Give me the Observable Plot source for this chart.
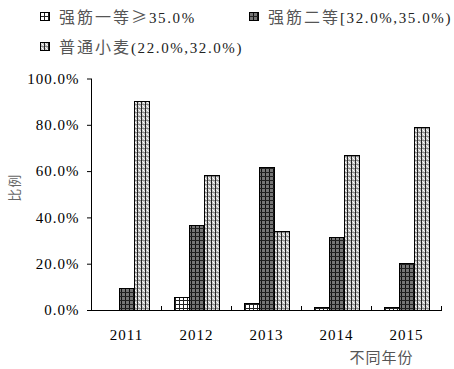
<!DOCTYPE html>
<html>
<head>
<meta charset="utf-8">
<script src="https://cdn.jsdelivr.net/npm/d3@7"></script>
<script src="https://cdn.jsdelivr.net/npm/@observablehq/plot@0.6"></script>
<style>
  body { margin: 0; background: #fff; }
  #wrap { width: 454px; background: #fff; }
  #legend { position: relative; width: 454px; height: 60px; }
  .item { position: absolute; height: 20px; display: flex; align-items: center; white-space: nowrap; }
  .item svg { margin-right: 9px; }
  .cjk { font-family: "Noto Sans CJK SC", sans-serif; font-size: 16px; letter-spacing: 2px; color: #555; }
  .lat { font-family: "Liberation Serif", "DejaVu Serif", serif; font-size: 15px; letter-spacing: 1.6px; color: #222; }
  #chart svg text { letter-spacing: 1px; }
</style>
</head>
<body>
<div id="wrap">
  <div id="legend"></div>
  <div id="chart"></div>
</div>
<script>
// ---- data ----
const years = ["2011", "2012", "2013", "2014", "2015"];
const seriesNames = ["强筋一等≥35.0%", "强筋二等[32.0%,35.0%)", "普通小麦(22.0%,32.0%)"];
const grade1 = [null, 5.2, 2.9, 1.2, 1.2];
const grade2 = [9.4, 36.6, 61.6, 31.4, 19.9];
const common = [90.1, 58.2, 34.0, 66.8, 79.0];
const yTicks = [0, 20, 40, 60, 80, 100];
const xTitle = "不同年份";
const yTitle = "比例";

const seriesValues = [grade1, grade2, common];
const patternIds = ["pat1", "pat2", "pat3"];
const serifFont = "Liberation Serif, DejaVu Serif, serif";

const data = [];
years.forEach((yr, i) => {
  seriesNames.forEach((s, j) => {
    const v = seriesValues[j][i];
    if (v != null) data.push({year: yr, series: s, value: v});
  });
});

const chart = Plot.plot({
  width: 454,
  height: 309,
  marginLeft: 90,
  marginRight: 12,
  marginTop: 18.5,
  marginBottom: 59,
  style: {fontFamily: serifFont, fontSize: "15px", color: "#000", background: "#fff", overflow: "visible"},
  fx: {domain: years, padding: 0, axis: null},
  x: {domain: seriesNames, paddingInner: 0, paddingOuter: 0.74, axis: null},
  y: {domain: [0, 100], axis: null},
  color: {domain: seriesNames, range: patternIds.map(id => `url(#${id})`)},
  marks: [
    Plot.barY(data, {fx: "year", x: "series", y: "value", fill: "series", stroke: "#000", strokeWidth: 1, shapeRendering: "crispEdges"}),
    Plot.ruleY([0], {stroke: "#000", strokeWidth: 1}),
    Plot.frame({anchor: "right", insetTop: 227.5, stroke: "#000"}),
    Plot.frame({anchor: "left", facetAnchor: "left", stroke: "#000"}),
    Plot.axisY({ticks: yTicks, tickSize: 4, tickPadding: 8, tickFormat: d => d.toFixed(1) + "%", fontSize: 15, fontFamily: serifFont, stroke: "#000", fill: "#000", label: null}),
    Plot.axisFx({anchor: "bottom", tickSize: 0, tickPadding: 18.5, fontSize: 15, fontFamily: serifFont, label: null, fill: "#000"}),
    Plot.text([yTitle], {frameAnchor: "left", facetAnchor: "left", dx: -77, dy: 7, rotate: -90, fill: "#666", fontSize: 13, fontFamily: "Noto Sans CJK SC, sans-serif"}),
    Plot.text([xTitle], {frameAnchor: "bottom-right", facetAnchor: "right", dx: -28, dy: 52, textAnchor: "end", fill: "#555", fontSize: 15, fontFamily: "Noto Sans CJK SC, sans-serif"})
  ]
});

function addPatterns(svgSel) {
  const defs = svgSel.insert("defs", ":first-child");
  let p = defs.append("pattern").attr("id", "pat1").attr("patternUnits", "userSpaceOnUse").attr("width", 4).attr("height", 4);
  p.append("rect").attr("width", 4).attr("height", 4).attr("fill", "#fff");
  p.append("rect").attr("x", 0).attr("y", 0).attr("width", 1).attr("height", 4).attr("fill", "#222");
  p.append("rect").attr("x", 0).attr("y", 0).attr("width", 4).attr("height", 1).attr("fill", "#222");
  p = defs.append("pattern").attr("id", "pat2").attr("patternUnits", "userSpaceOnUse").attr("width", 4).attr("height", 4);
  p.append("rect").attr("width", 4).attr("height", 4).attr("fill", "#767676");
  p.append("rect").attr("x", 0).attr("y", 0).attr("width", 1).attr("height", 4).attr("fill", "#111");
  p.append("rect").attr("x", 0).attr("y", 0).attr("width", 4).attr("height", 1).attr("fill", "#222");
  p = defs.append("pattern").attr("id", "pat3").attr("patternUnits", "userSpaceOnUse").attr("width", 4).attr("height", 4);
  p.append("rect").attr("width", 4).attr("height", 4).attr("fill", "#c4c4c4");
  p.append("rect").attr("x", 0).attr("y", 0).attr("width", 1).attr("height", 4).attr("fill", "#222");
  p.append("rect").attr("x", 1).attr("y", 0).attr("width", 3).attr("height", 1).attr("fill", "#8a8a8a");
  p.append("rect").attr("x", 2).attr("y", 2).attr("width", 1).attr("height", 1).attr("fill", "#fff");
  p.append("rect").attr("x", 1).attr("y", 1).attr("width", 1).attr("height", 1).attr("fill", "#eee");
  p.append("rect").attr("x", 3).attr("y", 3).attr("width", 1).attr("height", 1).attr("fill", "#eee");
}
addPatterns(d3.select(chart));
document.getElementById("chart").appendChild(chart);

// ---- legend ----
const legend = d3.select("#legend");
const legendPos = [[40, 6], [249, 6], [40, 36]];
function splitText(t) {
  const parts = [];
  for (const ch of t) {
    const isCjk = /[\u3400-\u9fff\u2265]/.test(ch);
    const last = parts[parts.length - 1];
    if (last && last.cjk === isCjk) last.t += ch; else parts.push({cjk: isCjk, t: ch});
  }
  return parts;
}
seriesNames.forEach((s, i) => {
  const item = legend.append("div").attr("class", "item")
    .style("left", legendPos[i][0] + "px").style("top", legendPos[i][1] + "px");
  const sw = item.append("svg").attr("width", 10).attr("height", 9);
  sw.append("rect").attr("x", 0.5).attr("y", 0.5).attr("width", 9).attr("height", 8)
    .attr("fill", `url(#${patternIds[i]})`).attr("stroke", "#000").attr("stroke-width", 1);
  const label = item.append("span");
  splitText(s).forEach(part => {
    label.append("span").attr("class", part.cjk ? "cjk" : "lat").text(part.t);
  });
});
</script>
</body>
</html>
